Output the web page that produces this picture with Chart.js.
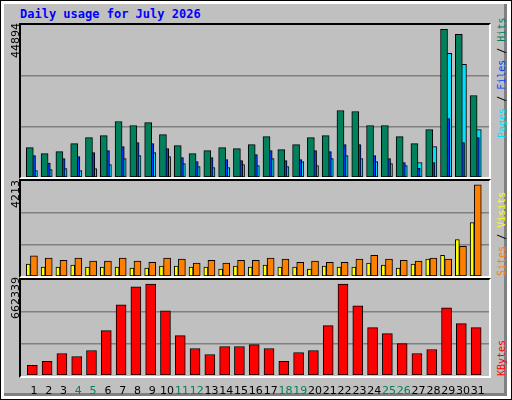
<!DOCTYPE html>
<html><head><meta charset="utf-8">
<script src="https://cdn.jsdelivr.net/npm/chart.js@4"></script>
<style>
html,body{margin:0;padding:0;background:#fff}
#frame{position:absolute;left:0;top:0;width:510px;height:398px;border:1px solid #000;background:#fff}
#inner{position:absolute;left:4px;top:4px;width:503px;height:392px;background:#C0C0C0;border-right:3px solid #808080;border-bottom:3px solid #808080;box-sizing:border-box}
.panel{position:absolute;left:19px;width:472px;border-top:2px solid #000;border-left:2px solid #000;border-bottom:2px solid #fff;border-right:2px solid #fff;box-sizing:border-box}
canvas{position:absolute}
.title{position:absolute;left:20px;top:7px;font:bold 12px "DejaVu Sans Mono",monospace;color:#0000FF}
.rot{position:absolute;transform-origin:0 0;transform:rotate(-90deg);white-space:nowrap;font:10px "DejaVu Sans Mono",monospace;line-height:11px}
.ylab{position:absolute;transform-origin:0 0;transform:rotate(-90deg);white-space:nowrap;font:11px "DejaVu Sans",sans-serif;color:#000}
</style></head><body>
<div id="frame"></div><div id="inner"></div>
<div class="title">Daily usage for July 2026</div>
<div class="panel" style="top:23px;height:156px"></div>
<div class="panel" style="top:179px;height:99px"></div>
<div class="panel" style="top:278px;height:100px"></div>
<canvas id="c1" style="left:21px;top:25px" width="468" height="152"></canvas>
<canvas id="c2" style="left:21px;top:181px" width="468" height="95"></canvas>
<canvas id="c3" style="left:21px;top:280px" width="468" height="118"></canvas>
<div class="ylab" style="left:9px;top:58px">44894</div>
<div class="ylab" style="left:9px;top:208px">4213</div>
<div class="ylab" style="left:9px;top:319px">662339</div>
<div class="rot" style="left:496px;top:138px"><span style="color:#00E0FF">Pages</span> / <span style="color:#0040FF">Files</span> / <span style="color:#00805C">Hits</span></div>
<div class="rot" style="left:496px;top:276px"><span style="color:#FF8000">Sites</span> / <span style="color:#FFFF00">Visits</span></div>
<div class="rot" style="left:496px;top:376px"><span style="color:#FF0000">KBytes</span></div>
<script>
const days=[1,2,3,4,5,6,7,8,9,10,11,12,13,14,15,16,17,18,19,20,21,22,23,24,25,26,27,28,29,30,31];
const weekend=[4,5,11,12,18,19,25,26];
const hits=[8680,6910,7500,9870,11640,12240,16380,15200,16080,12530,9280,6910,7800,8680,8390,9570,11940,8090,9570,11640,12240,19640,19340,15200,15200,11940,9870,14010,43610,42130,24080];
const files=[6320,4140,5430,6020,7200,7800,8980,10160,9870,8390,5720,4540,5720,5130,4830,6610,7800,4830,5130,7800,7500,9570,9570,6320,5430,4240,2570,4240,17270,10160,11640];
const pages=[1870,2170,2470,1870,2470,3650,5430,6320,7200,6020,3950,3060,2760,2760,3650,3350,5430,3060,4540,3350,5430,6320,5430,4540,3950,3350,4240,8980,36510,33250,14010];
const sites=[890,790,700,790,660,660,790,660,610,790,750,570,700,570,700,700,790,750,610,660,610,610,750,920,750,700,660,790,750,1320,4040];
const visits=[530,400,400,480,400,400,400,350,350,440,440,400,400,310,440,400,480,400,400,310,440,400,400,570,480,350,530,750,920,1620,2370];
const kbytes=[66900,94600,150000,129200,170800,309200,489300,613900,634600,447700,274600,184600,143100,198500,198500,212300,184600,94600,156900,170800,343900,634600,482300,330000,288500,219200,150000,177700,468500,357700,330000];
const maxes={top:44894,mid:4213,bot:662339};
const xMin=0.125,xMax=31.76;
function ds(vals,color,off,w){return{data:vals.map((v,i)=>({x:days[i]+off,y:v})),backgroundColor:color,borderColor:'#000',borderWidth:1,borderSkipped:false,barThickness:w,grouped:false};}
function mk(id,datasets,max,showX){
 return new Chart(document.getElementById(id),{type:'bar',data:{datasets},
 options:{responsive:false,animation:false,events:[],layout:{padding:0},
 plugins:{legend:{display:false},tooltip:{enabled:false}},
 scales:{x:{type:'linear',offset:false,min:xMin,max:xMax,grid:{display:false,offset:false},border:{display:false},
   afterBuildTicks:s=>{s.ticks=days.map(d=>({value:d}));},
   afterFit:s=>{s.height=showX?23:0;},
   ticks:{display:showX,autoSkip:false,maxRotation:0,padding:2,font:{family:'DejaVu Sans',size:11},
     color:c=>weekend.includes(c.tick.value)?'#00805C':'#000',callback:v=>String(v)}},
  y:{min:0,max:max,display:true,afterFit:s=>{s.width=0;},ticks:{display:false,stepSize:max/3},
   border:{display:false},grid:{color:'#808080',lineWidth:c=>(c.tick.value>0&&c.tick.value<max-1)?1.5:0,drawTicks:false}}}}});
}
mk('c1',[ds(hits,'#00805C',-0.28,7),ds(files,'#0040FF',-0.13,7),ds(pages,'#00E0FF',0,7)],maxes.top,false);
mk('c2',[ds(visits,'#FFFF00',-0.38,4),ds(sites,'#FF8000',0,7)],maxes.mid,false);
mk('c3',[ds(kbytes,'#FF0000',-0.11,10)],maxes.bot,true);
</script></body></html>
